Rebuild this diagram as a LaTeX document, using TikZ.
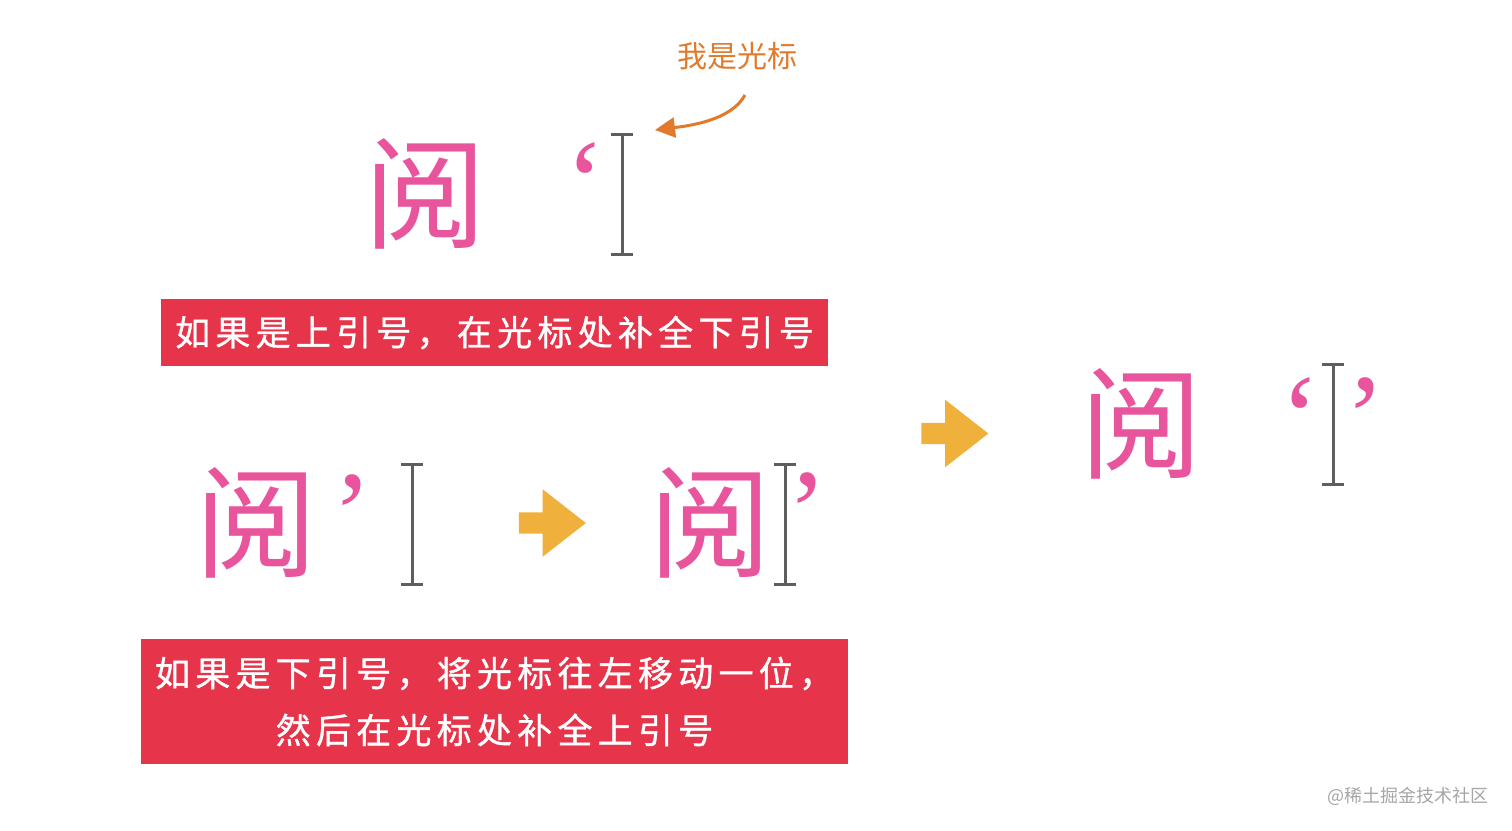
\documentclass[tikz,border=0pt]{standalone}
\usepackage{fontspec}
\usetikzlibrary{arrows.meta,shapes.arrows}
\newfontfamily\cjk{Noto Sans CJK SC}
\newfontfamily\cjkwide[LetterSpace=15,FakeBold=1]{Noto Sans CJK SC}
\newfontfamily\quotefont{Liberation Serif}
\definecolor{yuePink}{HTML}{E9559D}
\definecolor{noteRed}{HTML}{E6344A}
\definecolor{noteOrange}{HTML}{E27A2B}
\definecolor{goYellow}{HTML}{F0B03C}
\definecolor{ibeamGray}{HTML}{5E5E5E}
\definecolor{markGray}{HTML}{A6A6A6}
\tikzset{
  yue glyph/.style={inner sep=0pt, text=yuePink, font=\cjk\fontsize{122}{122}\selectfont},
  yue quote/.style={inner sep=0pt, anchor=base, text=yuePink, font=\quotefont\fontsize{120}{120}\selectfont},
  ibeam line/.style={draw=ibeamGray, line width=3pt},
  ibeam/.pic={\draw[ibeam line] (-11,-60) -- (11,-60) (0,-60) -- (0,60) (-11,60) -- (11,60);},
  note box/.style={fill=noteRed, text=white, inner sep=0pt, align=center, font=\cjkwide\fontsize{35}{57}\selectfont},
  note label/.style={inner sep=0pt, text=noteOrange, font=\cjk\fontsize{30}{30}\selectfont},
  note arrow/.style={draw=noteOrange, line width=3pt, -{Triangle[length=20pt,width=20pt]}},
  go arrow/.style={single arrow, fill=goYellow, draw=none, inner sep=0pt, text height=21pt,
    minimum height=67pt, single arrow head extend=23pt, single arrow tip angle=76},
  mark label/.style={inner sep=0pt, text=markGray, font=\cjk\fontsize{18}{18}\selectfont},
}

\begin{document}
\begin{tikzpicture}[x=1pt, y=-1pt]
  \useasboundingbox (0,0) rectangle (1512,830);
  % ----- Top: opening quote, cursor after it -----
  \node[yue glyph] (yueTop) at (425,194) {阅};
  \node[yue quote] (openTop) at (585,222) {‘};
  \pic at (622,194.5) {ibeam};
  \node[note label] (cursorNote) at (737,56) {我是光标};
  \coordinate (noteTail) at (745,95);
  \coordinate (cursorTip) at (655,130);
  \draw[note arrow] (noteTail) .. controls +(-14,26) and +(32,-4) .. (cursorTip);
  \node[note box, minimum width=667pt, minimum height=67pt] (ruleOpen) at (494.5,332.5)
    {如果是上引号，在光标处补全下引号};
  % ----- Bottom: closing quote, cursor moves left -----
  \node[yue glyph] (yueLeft) at (256,523) {阅};
  \node[yue quote] (closeLeft) at (352,554) {’};
  \pic at (412,524) {ibeam};
  \node[go arrow] (goStep) at (545.5,523) {};
  \node[yue glyph] (yueMid) at (710,523) {阅};
  \pic at (785,524) {ibeam};
  \node[yue quote] (closeMid) at (807,552) {’};
  \node[note box, minimum width=707pt, minimum height=125pt] (ruleClose) at (494.5,701.5)
    {如果是下引号，将光标往左移动一位，\\然后在光标处补全上引号};
  % ----- Result: both quotes round the cursor -----
  \node[go arrow] (goResult) at (948,433.5) {};
  \node[yue glyph] (yueRight) at (1141,423.5) {阅};
  \node[yue quote] (openRight) at (1300,457) {‘};
  \pic at (1333,424.5) {ibeam};
  \node[yue quote] (closeRight) at (1365,457) {’};
  \node[mark label] (siteMark) at (1408,796) {@稀土掘金技术社区};
\end{tikzpicture}
\end{document}
